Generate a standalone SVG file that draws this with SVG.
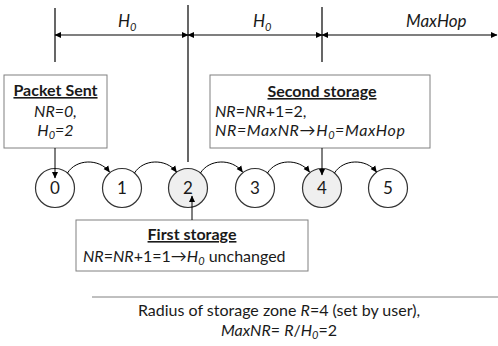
<svg xmlns="http://www.w3.org/2000/svg" width="498" height="346" viewBox="0 0 498 346">
<defs>
<style>
text{font-family:Lato,"Open Sans","Liberation Sans",sans-serif;fill:#1a1a1a}
.t{font-size:16px}
.top{font-size:17px;font-style:italic}
.i{font-style:italic}
.b{font-weight:bold;text-decoration:underline}
.box{fill:#fff;stroke:#808080;stroke-width:1}
.dim{stroke:#000;stroke-width:1.2;fill:none}
.circ{fill:#fff;stroke:#333;stroke-width:1.2}
.hl{fill:#efefef}
.num{font-size:17px;text-anchor:middle}
.con{stroke:#000;stroke-width:1;fill:none}
</style>
<marker id="ah" markerWidth="7" markerHeight="7" refX="6" refY="3.5" orient="auto-start-reverse" markerUnits="userSpaceOnUse">
<path d="M0,0.5 L6.5,3.5 L0,6.5 Z" fill="#000"/>
</marker>
</defs>

<g id="dimensions">
<line class="dim" x1="55" y1="8" x2="55" y2="62"/>
<line class="dim" x1="188" y1="5" x2="188" y2="162"/>
<line class="dim" x1="322" y1="7" x2="322" y2="62"/>
<line class="dim" x1="55" y1="35" x2="188" y2="35" marker-start="url(#ah)" marker-end="url(#ah)"/>
<line class="dim" x1="188" y1="35" x2="322" y2="35" marker-start="url(#ah)" marker-end="url(#ah)"/>
<line class="dim" x1="322" y1="35" x2="497" y2="35" marker-start="url(#ah)" marker-end="url(#ah)"/>
<text class="top" x="118" y="27">H<tspan font-size="11" dy="4">0</tspan></text>
<text class="top" x="253" y="27">H<tspan font-size="11" dy="4">0</tspan></text>
<text class="top" x="406" y="27">MaxHop</text>
</g>

<g id="node0"><circle class="circ" cx="55" cy="188" r="19.5"/><text class="num" x="55" y="194">0</text></g>
<g id="node1"><circle class="circ" cx="122" cy="188" r="19.5"/><text class="num" x="122" y="194">1</text></g>
<g id="node2"><circle class="circ hl" cx="188" cy="188" r="19.5"/><text class="num" x="188" y="194">2</text></g>
<g id="node3"><circle class="circ" cx="255" cy="188" r="19.5"/><text class="num" x="255" y="194">3</text></g>
<g id="node4"><circle class="circ hl" cx="322" cy="188" r="19.5"/><text class="num" x="322" y="194">4</text></g>
<g id="node5"><circle class="circ" cx="388" cy="188" r="19.5"/><text class="num" x="388" y="194">5</text></g>

<g id="packet-sent">
<rect class="box" x="4" y="75" width="103" height="73"/>
<text class="t b" x="55.5" y="96" text-anchor="middle">Packet Sent</text>
<text class="t i" x="55.5" y="117" text-anchor="middle">NR=0,</text>
<text class="t i" x="55.5" y="136" text-anchor="middle">H<tspan font-size="11" dy="3">0</tspan><tspan dy="-3">=2</tspan></text>
</g>

<g id="second-storage">
<rect class="box" x="210" y="75" width="220" height="73"/>
<text class="t b" x="322" y="97" text-anchor="middle">Second storage</text>
<text class="t" x="215" y="117"><tspan class="i">NR</tspan>=<tspan class="i">NR</tspan>+1=2,</text>
<text class="t i" x="215" y="136" letter-spacing="0.6">NR=MaxNR→H<tspan font-size="11" dy="3">0</tspan><tspan dy="-3">=MaxHop</tspan></text>
</g>

<g id="first-storage">
<rect class="box" x="76" y="220" width="232" height="51"/>
<text class="t b" x="192" y="240" text-anchor="middle">First storage</text>
<text class="t" x="83" y="262"><tspan class="i">NR</tspan>=<tspan class="i">NR</tspan>+1=1→<tspan class="i">H</tspan><tspan class="i" font-size="11" dy="3">0</tspan><tspan dy="-3"> unchanged</tspan></text>
</g>

<g id="storage-zone">
<line x1="92" y1="297" x2="498" y2="297" stroke="#808080" stroke-width="1"/>
<text class="t" x="279" y="316" text-anchor="middle" font-size="16.5">Radius of storage zone <tspan class="i">R</tspan>=4 (set by user),</text>
<text class="t" x="279" y="336" text-anchor="middle" font-size="16.5"><tspan class="i">MaxNR</tspan>= <tspan class="i">R</tspan>/<tspan class="i">H</tspan><tspan class="i" font-size="11" dy="3">0</tspan><tspan dy="-3">=2</tspan></text>
</g>

<g id="connectors">
<path class="con" d="M67.5,173 C76,159 99,158 109.5,172" marker-end="url(#ah)"/>
<path class="con" d="M134.5,173 C143,159 166,158 176.5,172" marker-end="url(#ah)"/>
<path class="con" d="M200.5,173 C209,159 232,158 242.5,172" marker-end="url(#ah)"/>
<path class="con" d="M267.5,173 C276,159 299,158 309.5,172" marker-end="url(#ah)"/>
<path class="con" d="M334.5,173 C343,159 366,158 376.5,172" marker-end="url(#ah)"/>
<line class="con" x1="55" y1="148" x2="55" y2="178" marker-end="url(#ah)"/>
<line class="con" x1="322" y1="148" x2="322" y2="175" marker-end="url(#ah)"/>
<line class="con" x1="192" y1="220" x2="192" y2="196" marker-end="url(#ah)"/>
</g>
</svg>
